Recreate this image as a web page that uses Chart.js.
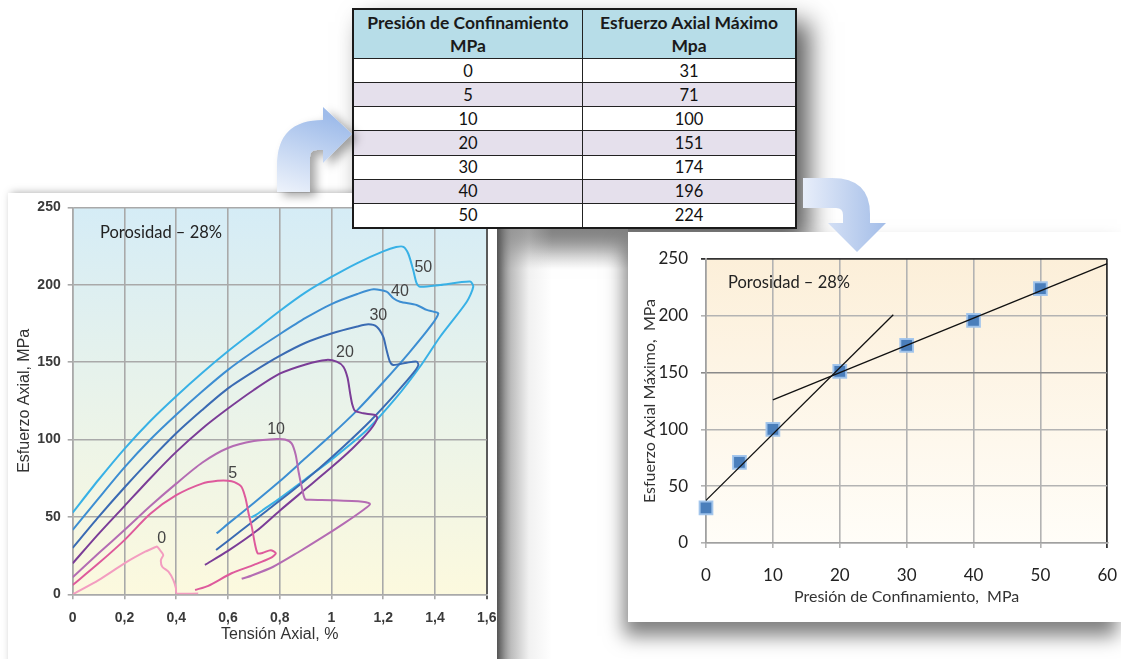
<!DOCTYPE html>
<html><head><meta charset="utf-8">
<script src="https://cdn.jsdelivr.net/npm/chart.js@4.4.0/dist/chart.umd.min.js"></script>
<style>
html,body{margin:0;padding:0;background:#fff;width:1121px;height:659px;overflow:hidden;}
body{position:relative;font-family:Lato,'Liberation Sans',sans-serif;}
.abs{position:absolute;}
#tblShadow{left:352px;top:8px;width:445px;height:221px;box-shadow:12px 14px 24px rgba(0,0,0,0.65);z-index:1;background:#fff;}
#gapShade{left:497px;top:229px;width:131px;height:430px;z-index:1;background:linear-gradient(to right, rgba(115,115,115,1) 0px, rgba(160,160,160,0.7) 14px, rgba(215,215,215,0.35) 32px, rgba(255,255,255,0) 55px), linear-gradient(to bottom, rgba(140,140,140,0.7) 0px, rgba(255,255,255,0) 40px);}
#leftPanel{left:8px;top:193px;width:489px;height:480px;background:#fff;box-shadow:3px 0 8px rgba(0,0,0,0.35);z-index:2;}
#rightPanel{left:628px;top:232px;width:493px;height:390px;background:#fff;box-shadow:-4px 14px 18px rgba(0,0,0,0.5);z-index:3;}
#tbl{left:352px;top:8px;z-index:4;border-collapse:collapse;width:445px;height:221px;border:2px solid #1a1a1a;background:#fff;font-family:Lato,'Liberation Sans',sans-serif;font-size:16.5px;color:#111;}
#tbl th{background:#b7dde8;font-weight:bold;font-size:17.5px;line-height:23px;height:48px;border:1.5px solid #222;padding:0;color:#1a1a1a;}
#tbl td{text-align:center;height:22px;border:1.5px solid #222;padding:0;line-height:20px;}
#tbl tr.alt td{background:#e5e0ec;}
#arrows{left:0;top:0;z-index:6;pointer-events:none;}
canvas{display:block;}
</style>
</head>
<body>
<div id="tblShadow" class="abs"></div>
<div id="gapShade" class="abs"></div>
<div id="leftPanel" class="abs"><canvas id="c1" width="489" height="466"></canvas></div>
<div id="rightPanel" class="abs"><canvas id="c2" width="493" height="390"></canvas></div>
<table id="tbl" class="abs">
<thead><tr><th style="width:228px">Presión de Confinamiento<br>MPa</th><th>Esfuerzo Axial Máximo<br>Mpa</th></tr></thead>
<tbody id="tbody"></tbody>
</table>
<svg id="arrows" class="abs" width="1121" height="659">
<defs>
<linearGradient id="ga1" x1="0.3" y1="0" x2="0" y2="1"><stop offset="0" stop-color="#9fbcea"/><stop offset="1" stop-color="#eef3fb"/></linearGradient>
<linearGradient id="ga2" x1="0" y1="0" x2="1" y2="0"><stop offset="0" stop-color="#e8eefa"/><stop offset="1" stop-color="#a3bde8"/></linearGradient>
<filter id="sh" x="-40%" y="-40%" width="180%" height="180%"><feDropShadow dx="6" dy="4" stdDeviation="5" flood-color="#000" flood-opacity="0.35"/></filter>
</defs>
<path d="M277 192 L277 165 Q277 120 323 120 L323 107 L352 134 L323 163 L323 150 L317 150 Q310 150 310 157 L310 192 Z" fill="url(#ga1)" filter="url(#sh)"/>
<path d="M803 178 L832 178 Q870 178 870 214 L870 223 L886 223 L857 252 L828 223 L843 223 L843 215 Q843 208 836 208 L803 208 Z" fill="url(#ga2)"/>
</svg>
<script>
// ---------- data: table / right chart ----------
const confinement = [0, 5, 10, 20, 30, 40, 50];
const maxStress = [31, 71, 100, 151, 174, 196, 224];
const trendLow = [[0, 37.5], [28, 201]];
const trendHigh = [[10, 126], [60, 246]];
const xTicksR = [0, 10, 20, 30, 40, 50, 60];
const yTicksR = [0, 50, 100, 150, 200, 250];

// ---------- data: left chart (stress-strain curves) ----------
const curveNames = ['0', '5', '10', '20', '30', '40', '50'];
const curve0 = [[0,0],[0.1,9.2],[0.2,20],[0.28,27.5],[0.318,30.4],[0.326,30.8],[0.337,28.6],[0.35,25.4],[0.341,22.2],[0.346,17.8],[0.37,14.6],[0.389,9.2],[0.399,3.9],[0.402,0.5],[0.485,0.5]];
const curve5 = [[0,6],[0.1,20],[0.2,35],[0.3,52],[0.4,64],[0.5,71.5],[0.56,73.3],[0.6,73.4],[0.625,72.5],[0.652,69.5],[0.668,62],[0.68,52],[0.692,43.7],[0.705,32],[0.715,26.5],[0.735,26.8],[0.765,28.5],[0.785,26.5],[0.765,23.5],[0.7,19],[0.614,13.6],[0.524,5.5],[0.473,2.8]];
const curve10 = [[0,11],[0.1,26.5],[0.2,41.5],[0.3,57],[0.4,71.5],[0.5,85],[0.6,94.5],[0.7,99],[0.79,100.3],[0.82,100],[0.846,97.5],[0.862,90],[0.872,80],[0.885,69.5],[0.898,61.5],[0.92,61],[1.0,60.8],[1.12,59.8],[1.149,58.3],[1.123,54.5],[1.05,46],[0.969,37.2],[0.87,27],[0.775,17.8],[0.69,12],[0.653,10]];
const curve20 = [[0,20],[0.1,39],[0.2,57],[0.3,75],[0.4,92],[0.5,107],[0.6,120],[0.7,132],[0.8,142.5],[0.9,148.5],[0.98,151.4],[1.02,150.3],[1.046,147],[1.062,140],[1.072,130],[1.08,123],[1.091,118.5],[1.123,116.9],[1.168,115.8],[1.177,113.7],[1.149,106],[1.08,94],[1.0,82],[0.9,68],[0.8,54],[0.711,41],[0.6,28],[0.511,19]];
const curve30 = [[0,30],[0.1,50],[0.2,69],[0.3,87],[0.4,104],[0.5,119],[0.6,133],[0.7,144],[0.8,154],[0.9,162.5],[1.0,168.5],[1.1,173],[1.143,174.4],[1.175,172.9],[1.2,166.4],[1.213,157.8],[1.226,150.3],[1.239,148.1],[1.291,149.6],[1.329,150.3],[1.336,148.1],[1.316,142.8],[1.25,130],[1.15,112],[1.05,96],[0.95,81],[0.85,67],[0.75,54],[0.65,41],[0.554,28.6]];
const curve40 = [[0,41.6],[0.1,62],[0.2,82],[0.3,100],[0.4,116],[0.5,131],[0.6,145],[0.7,157],[0.8,168],[0.9,178.5],[1.0,187.5],[1.1,194],[1.162,197],[1.213,195.5],[1.239,191.2],[1.265,189],[1.329,186.9],[1.368,183.7],[1.394,182.6],[1.413,181.5],[1.387,174],[1.3,156],[1.2,137],[1.1,119],[1.0,103],[0.9,88],[0.8,73],[0.7,59],[0.6,45.5],[0.565,40.5],[0.556,39.4]];
const curve50 = [[0,52.8],[0.1,74],[0.2,94],[0.3,112],[0.4,128],[0.5,143],[0.6,157],[0.7,170],[0.8,183],[0.9,195],[1.0,205],[1.1,214],[1.2,221.5],[1.25,224.3],[1.278,224.5],[1.297,220],[1.316,209.5],[1.329,201],[1.342,198.7],[1.42,199.8],[1.536,202],[1.548,198.7],[1.523,189],[1.42,166.4],[1.342,147],[1.25,127],[1.136,106],[1.0,87],[0.9,74.5],[0.8,62],[0.74,55],[0.71,51.5],[0.69,49.7]];
const curveLabelAt = [[0.344,36],[0.618,78],[0.786,106.6],[1.052,156],[1.181,180],[1.265,195.5],[1.355,211]];
const xTicksL = [0, 0.2, 0.4, 0.6, 0.8, 1, 1.2, 1.4, 1.6];
const xTickLabelsL = ['0', '0,2', '0,4', '0,6', '0,8', '1', '1,2', '1,4', '1,6'];
const yTicksL = [0, 50, 100, 150, 200, 250];

const curves = [curve0, curve5, curve10, curve20, curve30, curve40, curve50];
const curveColors = ['#f39dc0', '#de5a9c', '#b46cb3', '#7b3d97', '#3a6bb3', '#3d8ed2', '#38b1e6'];

// ---------- table ----------
const tb = document.getElementById('tbody');
confinement.forEach((c, i) => {
  const tr = document.createElement('tr');
  if (i % 2 === 1) tr.className = 'alt';
  tr.innerHTML = '<td>' + c + '</td><td>' + maxStress[i] + '</td>';
  tb.appendChild(tr);
});

// ---------- plugins ----------
const plotBg = {
  id: 'plotBg',
  beforeDraw(chart, args, opts) {
    const {ctx, chartArea: a} = chart;
    const g = ctx.createLinearGradient(0, a.top, 0, a.bottom);
    opts.stops.forEach(s => g.addColorStop(s[0], s[1]));
    ctx.save(); ctx.fillStyle = g;
    ctx.fillRect(a.left, a.top, a.right - a.left, a.bottom - a.top);
    ctx.restore();
  }
};
const notes = {
  id: 'notes',
  afterDatasetsDraw(chart, args, opts) {
    const {ctx, chartArea: a, scales} = chart;
    ctx.save();
    ctx.textBaseline = 'middle';
    (opts.items || []).forEach(it => {
      ctx.font = it.font; ctx.fillStyle = it.color; ctx.textAlign = 'left';
      ctx.fillText(it.text, a.left + it.dx, a.top + it.dy);
    });
    (opts.dataLabels || []).forEach(it => {
      ctx.font = it.font; ctx.fillStyle = it.color; ctx.textAlign = 'center';
      ctx.fillText(it.text, scales.x.getPixelForValue(it.x), scales.y.getPixelForValue(it.y));
    });
    ctx.restore();
  }
};
const noPad = s => { s.paddingLeft = 0; s.paddingRight = 0; s.paddingTop = 0; s.paddingBottom = 0; };

const fontL = "'Liberation Sans', Arial, sans-serif";
const fontR = "Lato, 'Liberation Sans', sans-serif";

// ---------- left chart ----------
new Chart(document.getElementById('c1'), {
  type: 'scatter',
  data: {
    datasets: curves.map((c, i) => ({
      label: curveNames[i],
      data: c.map(p => ({x: p[0], y: p[1]})),
      showLine: true, borderColor: curveColors[i], backgroundColor: curveColors[i],
      borderWidth: 2, pointRadius: 0, tension: 0.25, fill: false
    }))
  },
  options: {
    responsive: false, animation: false, devicePixelRatio: 1,
    layout: {padding: {left: 0, top: 14.3, right: 10.3, bottom: 0}},
    plugins: {
      legend: {display: false}, tooltip: {enabled: false},
      plotBg: {stops: [[0, '#d5ecf6'], [0.5, '#e9f3ea'], [1, '#fcf9de']]},
      notes: {
        items: [{text: 'Porosidad – 28%', dx: 27.3, dy: 25.7, font: "16.5px " + fontR, color: '#222'}],
        dataLabels: curveLabelAt.map((p, i) => ({text: curveNames[i], x: p[0], y: p[1], font: "16px 'Liberation Sans Narrow', 'Liberation Sans', sans-serif", color: '#444'}))
      }
    },
    scales: {
      x: {
        type: 'linear', min: 0, max: 1.6,
        afterBuildTicks: s => { s.ticks = xTicksL.map(v => ({value: v})); },
        afterFit: s => { s.height = 64.7; noPad(s); },
        ticks: {callback: (v, i) => xTickLabelsL[i], color: '#3a3a3a', font: {family: fontL, size: 14, weight: 'bold'}, padding: 10, maxRotation: 0, autoSkip: false},
        grid: {color: c => (c.tick && c.tick.value === 1.6) ? '#5a5a5a' : '#a9a9a9', lineWidth: c => (c.tick && c.tick.value === 1.6) ? 2 : 1.6, tickLength: 5},
        border: {display: true, color: '#a9a9a9', width: 1.6},
        title: {display: true, text: 'Tensión Axial, %', color: '#333', font: {family: fontL, size: 16}, padding: {top: 0, bottom: 14.4}}
      },
      y: {
        type: 'linear', min: 0, max: 250,
        afterBuildTicks: s => { s.ticks = yTicksL.map(v => ({value: v})); },
        afterFit: s => { s.width = 64.7; noPad(s); },
        ticks: {color: '#3a3a3a', font: {family: fontL, size: 14, weight: 'bold'}, padding: 7},
        grid: {color: '#a9a9a9', lineWidth: 1.6, tickLength: 5},
        border: {display: true, color: '#a9a9a9', width: 1.6},
        title: {display: true, text: 'Esfuerzo Axial, MPa', color: '#333', font: {family: fontL, size: 16}, padding: {top: 7.4, bottom: 0}}
      }
    }
  },
  plugins: [plotBg, notes]
});

// ---------- right chart ----------
new Chart(document.getElementById('c2'), {
  type: 'scatter',
  data: {
    datasets: [
      {label: 'tendencia 1', data: trendLow.map(p => ({x: p[0], y: p[1]})), showLine: true, borderColor: '#111', borderWidth: 1.3, pointRadius: 0, tension: 0, order: 0},
      {label: 'tendencia 2', data: trendHigh.map(p => ({x: p[0], y: p[1]})), showLine: true, borderColor: '#111', borderWidth: 1.3, pointRadius: 0, tension: 0, order: 0},
      {label: 'Esfuerzo Axial Máximo', data: confinement.map((c, i) => ({x: c, y: maxStress[i]})), pointStyle: 'rect', pointRadius: 9, backgroundColor: '#4a7ebb', borderColor: 'rgba(160,196,236,0.95)', borderWidth: 2, order: 1, clip: false}
    ]
  },
  options: {
    responsive: false, animation: false, devicePixelRatio: 1,
    layout: {padding: {left: 0, top: 27, right: 13.7, bottom: 0}},
    plugins: {
      legend: {display: false}, tooltip: {enabled: false},
      plotBg: {stops: [[0, '#fcefd9'], [1, '#fffdf8']]},
      notes: {items: [{text: 'Porosidad – 28%', dx: 22, dy: 24, font: "16.5px " + fontR, color: '#222'}]}
    },
    scales: {
      x: {
        type: 'linear', min: 0, max: 60,
        afterBuildTicks: s => { s.ticks = xTicksR.map(v => ({value: v})); },
        afterFit: s => { s.height = 79; noPad(s); },
        ticks: {color: '#222', font: {family: fontR, size: 17}, padding: 17, maxRotation: 0, autoSkip: false},
        grid: {color: c => (c.tick && c.tick.value === 60) ? '#333' : '#b3b3b3', lineWidth: c => (c.tick && c.tick.value === 60) ? 1.8 : 1.6, tickLength: 5},
        border: {display: true, color: '#a0a0a0', width: 1.6},
        title: {display: true, text: 'Presión de Confinamiento,  MPa', color: '#333', font: {family: fontR, size: 16}, padding: {top: 0, bottom: 15.4}}
      },
      y: {
        type: 'linear', min: 0, max: 250,
        afterBuildTicks: s => { s.ticks = yTicksR.map(v => ({value: v})); },
        afterFit: s => { s.width = 78; noPad(s); },
        ticks: {color: '#222', font: {family: fontR, size: 17}, padding: 13},
        grid: {color: c => (c.tick && c.tick.value === 250) ? '#333' : (c.tick && c.tick.value === 150 ? '#8a8a8a' : '#b3b3b3'), lineWidth: c => (c.tick && c.tick.value === 250) ? 1.8 : 1.6, tickLength: 5},
        border: {display: true, color: '#a0a0a0', width: 1.6},
        title: {display: true, text: 'Esfuerzo Axial Máximo,  MPa', color: '#333', font: {family: fontR, size: 16}, padding: {top: 12.4, bottom: 0}}
      }
    }
  },
  plugins: [plotBg, notes]
});
</script>
</body></html>
